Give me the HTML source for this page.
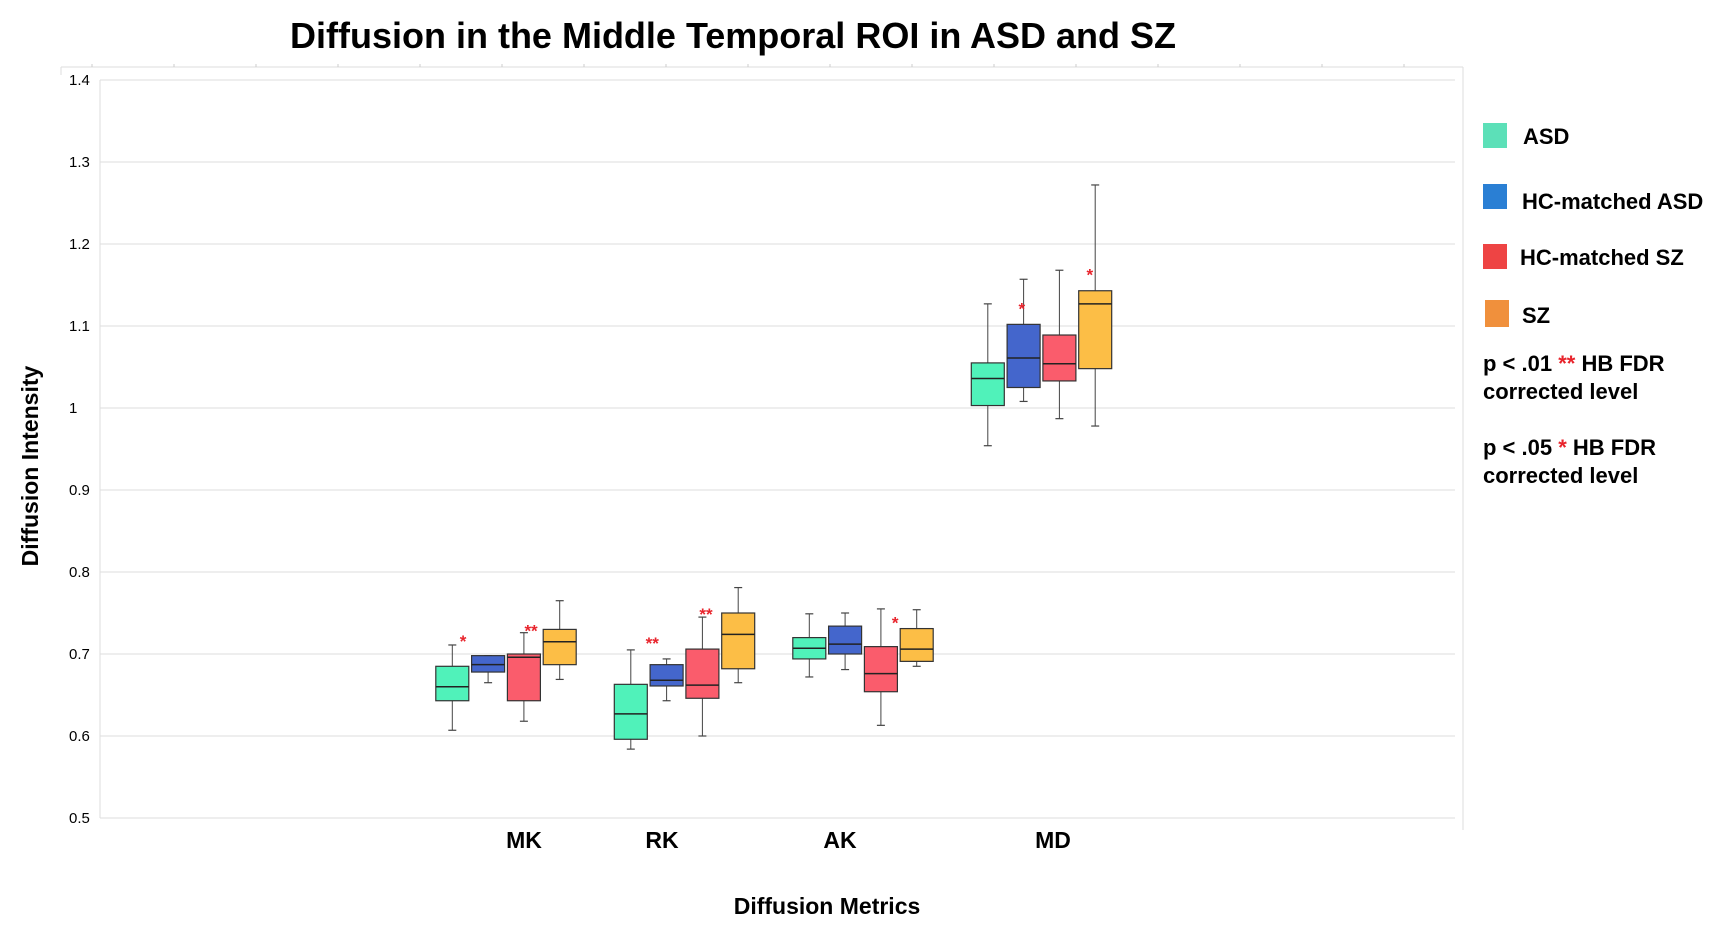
<!DOCTYPE html>
<html><head><meta charset="utf-8"><style>
html,body{margin:0;padding:0;background:#fff;}
svg{display:block;font-family:"Liberation Sans",Arial,sans-serif;}
</style></head><body>
<svg id="chart" width="1732" height="936" viewBox="0 0 1732 936">
<text x="733" y="48" text-anchor="middle" font-size="36" font-weight="bold">Diffusion in the Middle Temporal ROI in ASD and SZ</text>
<g id="frame">
<line x1="61" y1="67" x2="1463" y2="67" stroke="#ddd" stroke-width="1"/>
<line x1="61" y1="67" x2="61" y2="75" stroke="#ddd"/>
<line x1="1463" y1="67" x2="1463" y2="830" stroke="#ddd"/>
<line x1="100" y1="80" x2="100" y2="818" stroke="#ddd"/>
</g>
<g id="grid"></g>
<g id="boxes"></g>
<g id="stars"></g>
<text x="524" y="848" text-anchor="middle" font-size="23" font-weight="bold">MK</text>
<text x="662" y="848" text-anchor="middle" font-size="23" font-weight="bold">RK</text>
<text x="840" y="848" text-anchor="middle" font-size="23" font-weight="bold">AK</text>
<text x="1053" y="848" text-anchor="middle" font-size="23" font-weight="bold">MD</text>
<text x="827" y="914" text-anchor="middle" font-size="23" font-weight="bold">Diffusion Metrics</text>
<text x="0" y="0" transform="translate(38,466) rotate(-90)" text-anchor="middle" font-size="23" font-weight="bold">Diffusion Intensity</text>
<g font-size="22" font-weight="bold">
<rect x="1483" y="123" width="24" height="25" fill="#5ce0b8"/>
<text x="1523" y="144">ASD</text>
<rect x="1483" y="184" width="24" height="25" fill="#2a7fd4"/>
<text x="1522" y="209">HC-matched ASD</text>
<rect x="1483" y="244" width="24" height="25" fill="#ee4444"/>
<text x="1520" y="265">HC-matched SZ</text>
<rect x="1485" y="300" width="24" height="27" fill="#f0903c"/>
<text x="1522" y="323">SZ</text>
<text x="1483" y="371">p &lt; .01 <tspan fill="#e8242c">**</tspan> HB FDR</text>
<text x="1483" y="399">corrected level</text>
<text x="1483" y="455">p &lt; .05 <tspan fill="#e8242c">*</tspan> HB FDR</text>
<text x="1483" y="483">corrected level</text>
</g>
</svg>
<script>
const yTicks=[0.5,0.6,0.7,0.8,0.9,1.0,1.1,1.2,1.3,1.4];
const yTickLabels=["0.5","0.6","0.7","0.8","0.9","1","1.1","1.2","1.3","1.4"];
const categories=["MK","RK","AK","MD"];
const groups=["ASD","HC-matched ASD","HC-matched SZ","SZ"];
const groupColors=["#50f2ba","#4466cc","#fa5c6c","#fcbe46"];
const whiskerLow=[[0.607,0.665,0.618,0.669],[0.584,0.643,0.600,0.665],[0.672,0.681,0.613,0.685],[0.954,1.008,0.987,0.978]];
const q1=[[0.643,0.678,0.643,0.687],[0.596,0.661,0.646,0.682],[0.694,0.700,0.654,0.691],[1.003,1.025,1.033,1.048]];
const median=[[0.660,0.687,0.696,0.715],[0.627,0.668,0.662,0.724],[0.707,0.712,0.676,0.706],[1.036,1.061,1.054,1.127]];
const q3=[[0.685,0.698,0.700,0.730],[0.663,0.687,0.706,0.750],[0.720,0.734,0.709,0.731],[1.055,1.102,1.089,1.143]];
const whiskerHigh=[[0.711,0.698,0.726,0.765],[0.705,0.694,0.745,0.781],[0.749,0.750,0.755,0.754],[1.127,1.157,1.168,1.272]];
const starLabels=["*","**","**","**","*","*","*"];
const starCategory=[0,0,1,1,2,3,3];
const starSlot=[0.3,2.2,0.6,2.1,2.4,0.95,2.85];
const starValue=[0.718,0.731,0.716,0.751,0.741,1.124,1.165];

const NS="http://www.w3.org/2000/svg";
const Y0=818,Y1=80,V0=0.5,V1=1.4;
function yScale(v){return Y0-(v-V0)/(V1-V0)*(Y0-Y1);}
function xScale(ci,gi){return 506+ci*178.5+(gi-1.5)*35.8;}
function mk(tag,attrs,parent){const e=document.createElementNS(NS,tag);for(const k in attrs)e.setAttribute(k,attrs[k]);parent.appendChild(e);return e;}
const grid=document.getElementById('grid');
yTicks.forEach((t,i)=>{
  const y=yScale(t);
  const l=mk('line',{x1:100,x2:1455,y1:y,y2:y,stroke:'#ddd','stroke-width':1},grid);
  
  
  const tx=mk('text',{x:69,y:y+5,'font-size':15},grid);
  tx.textContent=yTickLabels[i];
  
  
});
for(let k=0;k<17;k++){
  const x=92+k*82;
  mk('line',{x1:x,x2:x,y1:64,y2:67,stroke:'#ccc'},grid);
}
const boxes=document.getElementById('boxes');
const W=33;
categories.forEach((c,ci)=>{
  groups.forEach((g,gi)=>{
    const cx=xScale(ci,gi);
    const gEl=mk('g',{},boxes);
    
    
    const yl=yScale(whiskerLow[ci][gi]),yh=yScale(whiskerHigh[ci][gi]);
    const y1=yScale(q1[ci][gi]),y3=yScale(q3[ci][gi]),ym=yScale(median[ci][gi]);
    mk('line',{x1:cx,x2:cx,y1:yh,y2:y3,stroke:'#444','stroke-width':1},gEl);
    mk('line',{x1:cx,x2:cx,y1:y1,y2:yl,stroke:'#444','stroke-width':1},gEl);
    mk('line',{x1:cx-4,x2:cx+4,y1:yh,y2:yh,stroke:'#444','stroke-width':1.2},gEl);
    mk('line',{x1:cx-4,x2:cx+4,y1:yl,y2:yl,stroke:'#444','stroke-width':1.2},gEl);
    mk('rect',{x:cx-W/2,y:y3,width:W,height:Math.max(1,y1-y3),fill:groupColors[gi],stroke:'#333','stroke-width':1.2},gEl);
    mk('line',{x1:cx-W/2,x2:cx+W/2,y1:ym,y2:ym,stroke:'#222','stroke-width':1.5},gEl);
  });
});
const stars=document.getElementById('stars');
starLabels.forEach((s,i)=>{
  const t=mk('text',{x:xScale(starCategory[i],starSlot[i]),y:yScale(starValue[i])+8,'text-anchor':'middle','font-size':17,'font-weight':'bold',fill:'#e8242c'},stars);
  t.textContent=s;
  
  
});
</script>
</body></html>
